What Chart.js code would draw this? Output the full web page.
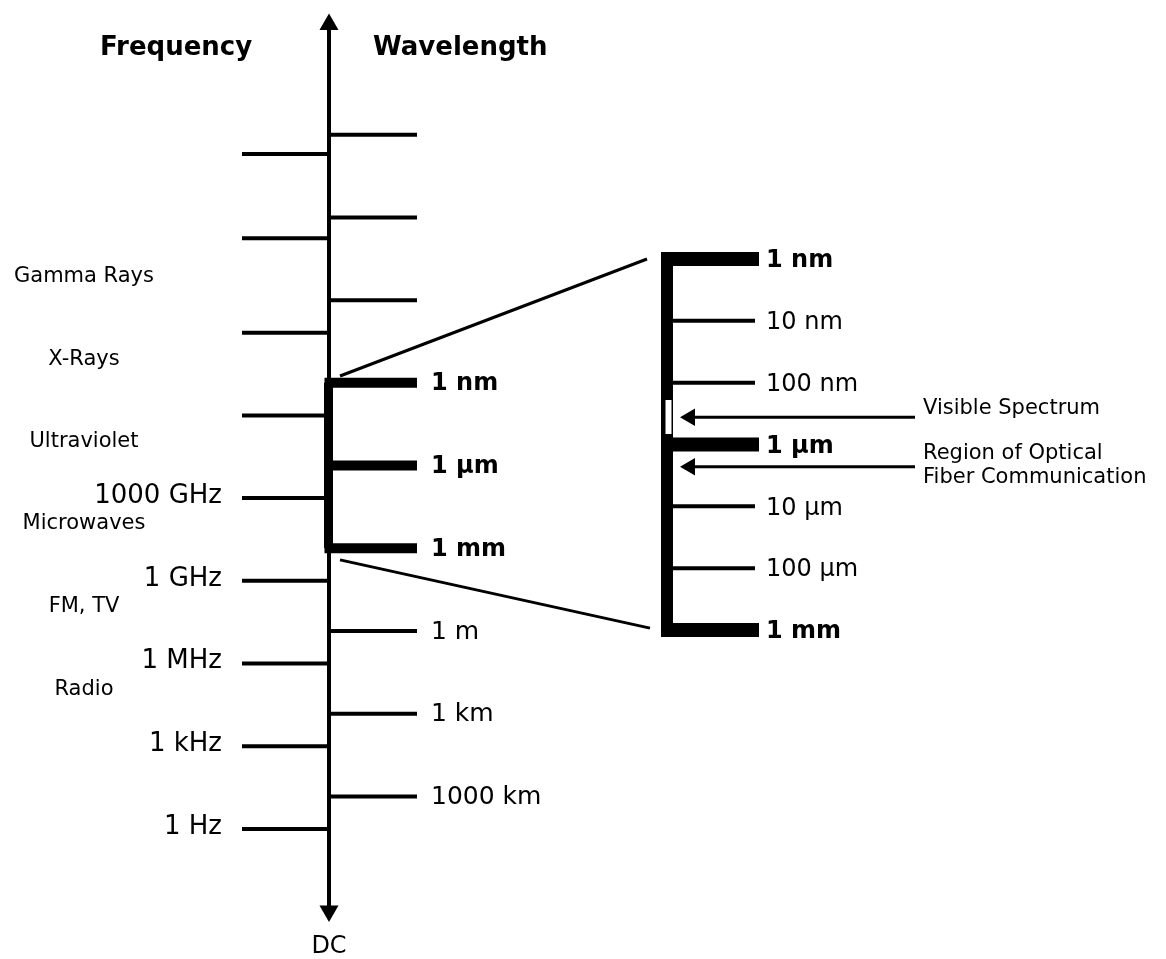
<!DOCTYPE html>
<html>
<head>
<meta charset="utf-8">
<script src="https://cdn.jsdelivr.net/npm/chart.js@4.4.1/dist/chart.umd.min.js"></script>
<style>
  html, body { margin: 0; padding: 0; background: #fff; }
  canvas { display: block; }
</style>
</head>
<body>
<canvas id="spectrum" width="1166" height="959"></canvas>
<script>
// wavelength ticks on the main axis, log10(wavelength / 1 m)
const waveTickExp = [-18, -15, -12, -9, -6, -3, 0, 3, 6];
const waveTickLabels = ['', '', '', '1 nm', '1 µm', '1 mm', '1 m', '1 km', '1000 km'];

// frequency ticks, placed on the same wavelength scale
const freqTickPos = [7.18, 4.18, 1.18, -1.82, -4.82, -7.82, -10.82, -14.25, -17.3];
const freqTickLabels = ['1 Hz', '1 kHz', '1 MHz', '1 GHz', '1000 GHz', '', '', '', ''];

// named bands, centre on the wavelength scale
const bandNames = ['Gamma Rays', 'X-Rays', 'Ultraviolet', 'Microwaves', 'FM, TV', 'Radio'];
const bandPos = [-12.84, -9.83, -6.86, -3.88, -0.87, 2.14];

// blown-up part of the axis: 1 nm .. 1 mm
const zoomRange = [-9, -3];
const insetTickExp = [-9, -8, -7, -6, -5, -4, -3];
const insetTickLabels = ['1 nm', '10 nm', '100 nm', '1 µm', '10 µm', '100 µm', '1 mm'];
const visibleRange = [-6.72, -6.17];
const visibleArrow = -6.44;
const fiberArrow = -5.64;

// arrow heads at the two ends of the main axis
const axisEnds = [-22.0, 10.16];

// ---- layout ----
const W = 1166, H = 959;
const MAIN_X = 329, FREQ_X0 = 242, WAVE_X1 = 417;
const INSET_X = 667, INSET_X1 = 759, INSET_THIN_X1 = 755;
const ARROW_TIP_X = 680, ARROW_X1 = 915;
const mainPx0 = 631, mainPxPerDec = 27.57;   // pixel row of 1 m, pixels per decade
const insetPx0 = 259, insetPxPerDec = 61.83; // pixel row of 1 nm in the inset

const black = '#000';
const FONT = '"DejaVu Sans", "Liberation Sans", Arial, sans-serif';

function hline(x0, x1, y, width, axis) {
  return {
    data: [{ x: x0, y: y }, { x: x1, y: y }],
    yAxisID: axis || 'y',
    showLine: true,
    borderColor: black,
    borderWidth: width,
    pointRadius: 0,
    clip: false
  };
}

function vline(x, y0, y1, width, axis, color) {
  return {
    data: [{ x: x, y: y0 }, { x: x, y: y1 }],
    yAxisID: axis || 'y',
    showLine: true,
    borderColor: color || black,
    borderWidth: width,
    pointRadius: 0,
    clip: false
  };
}

function head(x, y, rotation, radius, axis) {
  return {
    data: [{ x: x, y: y }],
    yAxisID: axis || 'y',
    showLine: false,
    pointStyle: 'triangle',
    pointRadius: radius,
    pointRotation: rotation,
    backgroundColor: black,
    borderWidth: 0,
    clip: false
  };
}

const isHeavy = e => e >= zoomRange[0] && e <= zoomRange[1] && e % 3 === 0;

const datasets = [];

// main axis
datasets.push(vline(MAIN_X, axisEnds[0], axisEnds[1], 4));
datasets.push(vline(MAIN_X - 0.5, zoomRange[0], zoomRange[1], 9));
datasets.push(head(MAIN_X, axisEnds[0], 0, 11));
datasets.push(head(MAIN_X, axisEnds[1], 180, 11));

// frequency ticks (left)
freqTickPos.forEach(p => datasets.push(hline(FREQ_X0, MAIN_X, p, 4)));

// wavelength ticks (right)
waveTickExp.forEach(e => {
  if (isHeavy(e)) datasets.push(hline(MAIN_X - 4.5, WAVE_X1, e, 10));
  else datasets.push(hline(MAIN_X, WAVE_X1, e, 4));
});

// inset axis
datasets.push(vline(INSET_X, zoomRange[0], zoomRange[1], 12, 'y2'));
insetTickExp.forEach(e => {
  if (isHeavy(e)) datasets.push(hline(INSET_X - 6, INSET_X1, e, 14, 'y2'));
  else datasets.push(hline(INSET_X + 6, INSET_THIN_X1, e, 4, 'y2'));
});
// visible spectrum window on the inset axis (drawn on top of the bar)
const windowSet = vline(INSET_X + 1.5, visibleRange[0], visibleRange[1], 6, 'y2', '#fff');
windowSet.order = -1;
datasets.push(windowSet);

// pointer arrows
[visibleArrow, fiberArrow].forEach(e => {
  datasets.push(hline(ARROW_TIP_X + 10, ARROW_X1, e, 3, 'y2'));
  datasets.push(head(ARROW_TIP_X + 10, e, -90, 10, 'y2'));
});

// lines joining the main axis to the inset
const zoomLines = {
  id: 'zoomLines',
  beforeDatasetsDraw(chart) {
    const { ctx, scales: { x, y, y2 } } = chart;
    ctx.save();
    ctx.strokeStyle = black;
    ctx.lineWidth = 3;
    ctx.beginPath();
    ctx.moveTo(x.getPixelForValue(MAIN_X + 11), y.getPixelForValue(zoomRange[0] - 0.25));
    ctx.lineTo(x.getPixelForValue(INSET_X - 20), y2.getPixelForValue(zoomRange[0]));
    ctx.moveTo(x.getPixelForValue(MAIN_X + 11), y.getPixelForValue(zoomRange[1] + 0.42));
    ctx.lineTo(x.getPixelForValue(INSET_X - 17), y2.getPixelForValue(zoomRange[1] - 0.03));
    ctx.stroke();
    ctx.restore();
  }
};

const diagramText = {
  id: 'diagramText',
  afterDatasetsDraw(chart) {
    const { ctx, scales: { x, y, y2 } } = chart;
    ctx.save();
    ctx.fillStyle = black;
    ctx.textBaseline = 'middle';

    ctx.font = 'bold 26px ' + FONT;
    ctx.textAlign = 'left';
    ctx.fillText('Frequency', 100, 48);
    ctx.fillText('Wavelength', 373, 48);

    ctx.font = '24px ' + FONT;
    ctx.textAlign = 'center';
    ctx.fillText('DC', x.getPixelForValue(MAIN_X), 947);

    // wavelength labels
    ctx.textAlign = 'left';
    waveTickExp.forEach((e, i) => {
      if (!waveTickLabels[i]) return;
      ctx.font = (isHeavy(e) ? 'bold 24px ' : '25px ') + FONT;
      ctx.fillText(waveTickLabels[i], x.getPixelForValue(WAVE_X1 + 14), y.getPixelForValue(e) + 1);
    });

    // frequency labels
    ctx.textAlign = 'right';
    ctx.font = '26px ' + FONT;
    freqTickPos.forEach((p, i) => {
      if (!freqTickLabels[i]) return;
      ctx.fillText(freqTickLabels[i], x.getPixelForValue(FREQ_X0 - 20), y.getPixelForValue(p) - 2);
    });

    // band names
    ctx.textAlign = 'center';
    ctx.font = '21px ' + FONT;
    bandNames.forEach((name, i) => {
      ctx.fillText(name, x.getPixelForValue(84), y.getPixelForValue(bandPos[i]));
    });

    // inset labels
    ctx.textAlign = 'left';
    insetTickExp.forEach((e, i) => {
      ctx.font = (isHeavy(e) ? 'bold 24px ' : '24px ') + FONT;
      ctx.fillText(insetTickLabels[i], x.getPixelForValue(INSET_X1 + 7), y2.getPixelForValue(e) + 2);
    });

    // pointer captions
    ctx.font = '21px ' + FONT;
    const lx = x.getPixelForValue(ARROW_X1 + 8);
    ctx.fillText('Visible Spectrum', lx, y2.getPixelForValue(visibleArrow) - 9);
    ctx.fillText('Region of Optical', lx, y2.getPixelForValue(fiberArrow) - 13);
    ctx.fillText('Fiber Communication', lx, y2.getPixelForValue(fiberArrow) + 11);
    ctx.restore();
  }
};

new Chart(document.getElementById('spectrum'), {
  type: 'scatter',
  data: { datasets: datasets },
  options: {
    responsive: false,
    animation: false,
    devicePixelRatio: 1,
    layout: { padding: 0, autoPadding: false },
    plugins: { legend: { display: false }, tooltip: { enabled: false } },
    scales: {
      x: { type: 'linear', display: false, min: 0, max: W },
      y: {
        type: 'linear', display: false, reverse: true,
        min: -mainPx0 / mainPxPerDec,
        max: (H - mainPx0) / mainPxPerDec
      },
      y2: {
        type: 'linear', display: false, reverse: true,
        min: zoomRange[0] - insetPx0 / insetPxPerDec,
        max: zoomRange[0] + (H - insetPx0) / insetPxPerDec
      }
    }
  },
  plugins: [zoomLines, diagramText]
});
</script>
</body>
</html>
